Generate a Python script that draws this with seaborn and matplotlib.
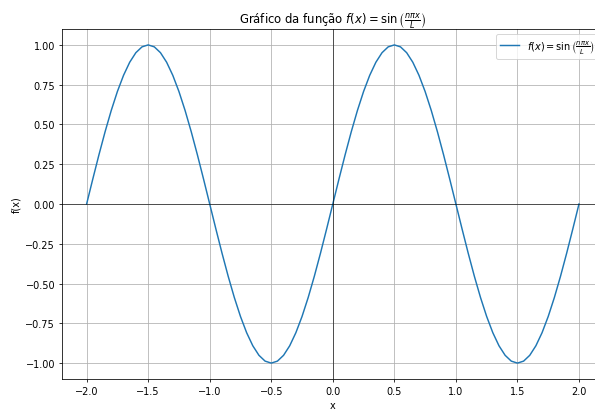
import matplotlib
matplotlib.use("Agg")
import matplotlib.pyplot as plt
import seaborn as sns
import pandas as pd

x_values = [
    -2.00, -1.95, -1.90, -1.85, -1.80, -1.75, -1.70, -1.65, -1.60, -1.55,
    -1.50, -1.45, -1.40, -1.35, -1.30, -1.25, -1.20, -1.15, -1.10, -1.05,
    -1.00, -0.95, -0.90, -0.85, -0.80, -0.75, -0.70, -0.65, -0.60, -0.55,
    -0.50, -0.45, -0.40, -0.35, -0.30, -0.25, -0.20, -0.15, -0.10, -0.05,
    0.00, 0.05, 0.10, 0.15, 0.20, 0.25, 0.30, 0.35, 0.40, 0.45,
    0.50, 0.55, 0.60, 0.65, 0.70, 0.75, 0.80, 0.85, 0.90, 0.95,
    1.00, 1.05, 1.10, 1.15, 1.20, 1.25, 1.30, 1.35, 1.40, 1.45,
    1.50, 1.55, 1.60, 1.65, 1.70, 1.75, 1.80, 1.85, 1.90, 1.95,
    2.00,
]
y_values = [
    0.0000, 0.1564, 0.3090, 0.4540, 0.5878, 0.7071, 0.8090, 0.8910, 0.9511, 0.9877,
    1.0000, 0.9877, 0.9511, 0.8910, 0.8090, 0.7071, 0.5878, 0.4540, 0.3090, 0.1564,
    0.0000, -0.1564, -0.3090, -0.4540, -0.5878, -0.7071, -0.8090, -0.8910, -0.9511, -0.9877,
    -1.0000, -0.9877, -0.9511, -0.8910, -0.8090, -0.7071, -0.5878, -0.4540, -0.3090, -0.1564,
    0.0000, 0.1564, 0.3090, 0.4540, 0.5878, 0.7071, 0.8090, 0.8910, 0.9511, 0.9877,
    1.0000, 0.9877, 0.9511, 0.8910, 0.8090, 0.7071, 0.5878, 0.4540, 0.3090, 0.1564,
    0.0000, -0.1564, -0.3090, -0.4540, -0.5878, -0.7071, -0.8090, -0.8910, -0.9511, -0.9877,
    -1.0000, -0.9877, -0.9511, -0.8910, -0.8090, -0.7071, -0.5878, -0.4540, -0.3090, -0.1564,
    0.0000,
]
label = r"$f(x) = \sin\left(\frac{n\pi x}{L}\right)$"
title = r"Gráfico da função $f(x) = \sin\left(\frac{n\pi x}{L}\right)$"

df = pd.DataFrame({"x": x_values, "f(x)": y_values})

fig = plt.figure(figsize=(8.5, 411 / 70), dpi=70)
ax = fig.add_axes([62 / 595, 31 / 411, (603.6 - 62) / 595, 350 / 411])

sns.lineplot(data=df, x="x", y="f(x)", ax=ax, color="#1f77b4", linewidth=1.5,
             label=label, sort=False)
ax.axhline(0, color="black", linewidth=0.6)
ax.axvline(0, color="black", linewidth=0.6)
ax.grid(True, color="#b0b0b0", linewidth=0.8)
ax.set_xticks([-2.0, -1.5, -1.0, -0.5, 0.0, 0.5, 1.0, 1.5, 2.0])
ax.set_title(title, fontsize=12)
ax.set_xlabel("x")
ax.set_ylabel("f(x)")
ax.legend(loc="upper right")

fig.savefig("out.png", dpi=70)
